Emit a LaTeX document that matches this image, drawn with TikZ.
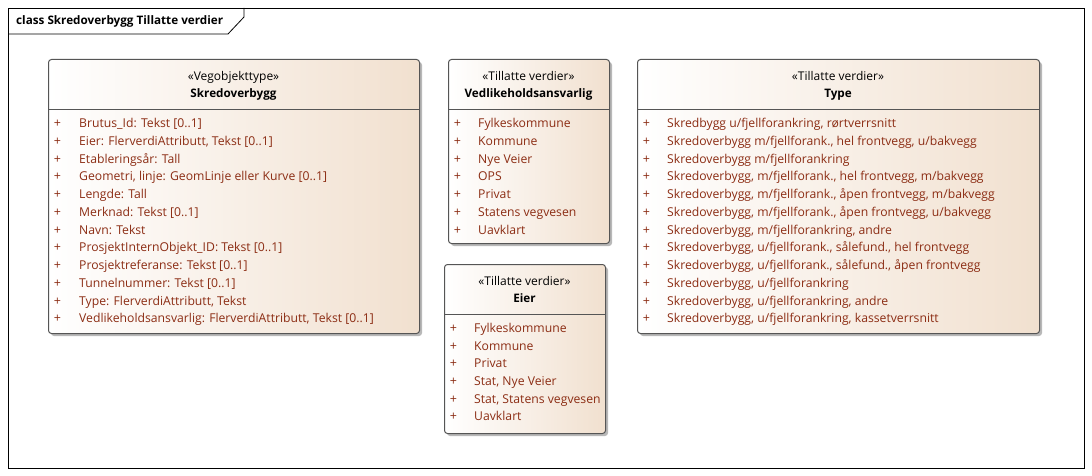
\documentclass[tikz,border=0pt]{standalone}
\usepackage{fontspec}
\setmainfont{Open Sans}
\usetikzlibrary{shadows}
\definecolor{attr}{RGB}{140,45,20}
\definecolor{peach}{RGB}{241,224,207}
\definecolor{edge}{RGB}{85,85,85}
\tikzset{
  classbox/.style={draw=edge, line width=1pt, rounded corners=3pt, left color=white, right color=peach,
    anchor=north west, inner sep=0pt,
    drop shadow={shadow xshift=2.5pt, shadow yshift=-2.5pt, fill=black!28, opacity=1}},
  stereo/.style={font=\fontsize{12}{14}\selectfont, anchor=mid, inner sep=0pt, text=black},
  cname/.style={font=\fontsize{11.7}{14}\selectfont\bfseries, anchor=mid, inner sep=0pt, text=black},
  attrtxt/.style={font=\fontsize{12.2}{14}\selectfont, text=attr, anchor=mid west, inner sep=0pt},
  plussign/.style={font=\fontsize{12.5}{14}\selectfont, text=attr, anchor=mid, inner sep=0pt},
  sepline/.style={draw=edge, line width=0.8pt},
}
\begin{document}
\begin{tikzpicture}[x=1pt,y=-1pt]
\useasboundingbox (0,0) rectangle (1092,476);
\fill[white] (0,0) rectangle (1092,476);
% frame
\node (frame) [draw=black, line width=1pt, minimum width=1076pt, minimum height=460pt, anchor=north west, inner sep=0pt] at (8,8) {};
\coordinate (tabA) at (244,8);
\coordinate (tabB) at (244,17);
\coordinate (tabC) at (228,34);
\coordinate (tabD) at (8,34);
\draw[line width=0.8pt] (tabA) -- (tabB) -- (tabC) -- (tabD);
\node (title) [font=\fontsize{11.7}{14}\selectfont\bfseries, anchor=mid west, inner sep=0pt] at (16,22) {class Skredoverbygg Tillatte verdier};

% Box 1
\node (b1) [classbox, minimum width=371pt, minimum height=274pt] at (48,59) {};
\node (b1s) [stereo] at (233.5,77.5) {«Vegobjekttype»};
\node (b1n) [cname] at (233.5,95) {Skredoverbygg};
\draw[sepline] (b1.west |- 0,109) -- (b1.east |- 0,109);
\foreach \t [count=\i] in {Brutus\_Id: Tekst [0..1], {Eier: FlerverdiAttributt, Tekst [0..1]}, Etableringsår: Tall,
  {Geometri, linje: GeomLinje eller Kurve [0..1]}, Lengde: Tall, Merknad: Tekst [0..1], Navn: Tekst,
  ProsjektInternObjekt\_ID: Tekst [0..1], Prosjektreferanse: Tekst [0..1], Tunnelnummer: Tekst [0..1],
  {Type: FlerverdiAttributt, Tekst}, {Vedlikeholdsansvarlig: FlerverdiAttributt, Tekst [0..1]}}{
  \node (b1p\i) [plussign] at (57.5,{125+(\i-1)*17.75}) {+};
  \node (b1a\i) [attrtxt] at (79,{125+(\i-1)*17.75}) {\t};
}

% Box 2
\node (b2) [classbox, minimum width=161pt, minimum height=184pt] at (448,59) {};
\node (b2s) [stereo] at (528.5,77.5) {«Tillatte verdier»};
\node (b2n) [cname] at (528.5,95) {Vedlikeholdsansvarlig};
\draw[sepline] (b2.west |- 0,109) -- (b2.east |- 0,109);
\foreach \t [count=\i] in {Fylkeskommune, Kommune, Nye Veier, OPS, Privat, Statens vegvesen, Uavklart}{
  \node (b2p\i) [plussign] at (457.5,{125+(\i-1)*17.75}) {+};
  \node (b2a\i) [attrtxt] at (478,{125+(\i-1)*17.75}) {\t};
}

% Box 3
\node (b3) [classbox, minimum width=161pt, minimum height=169pt] at (444,264) {};
\node (b3s) [stereo] at (524.5,282.5) {«Tillatte verdier»};
\node (b3n) [cname] at (524.5,300) {Eier};
\draw[sepline] (b3.west |- 0,314) -- (b3.east |- 0,314);
\foreach \t [count=\i] in {Fylkeskommune, Kommune, Privat, {Stat, Nye Veier}, {Stat, Statens vegvesen}, Uavklart}{
  \node (b3p\i) [plussign] at (453.5,{330+(\i-1)*17.6}) {+};
  \node (b3a\i) [attrtxt] at (474,{330+(\i-1)*17.6}) {\t};
}

% Box 4
\node (b4) [classbox, minimum width=402pt, minimum height=274pt] at (637,59) {};
\node (b4s) [stereo] at (838,77.5) {«Tillatte verdier»};
\node (b4n) [cname] at (838,95) {Type};
\draw[sepline] (b4.west |- 0,109) -- (b4.east |- 0,109);
\foreach \t [count=\i] in {{Skredbygg u/fjellforankring, rørtverrsnitt}, {Skredoverbygg m/fjellforank., hel frontvegg, u/bakvegg},
  Skredoverbygg m/fjellforankring, {Skredoverbygg, m/fjellforank., hel frontvegg, m/bakvegg},
  {Skredoverbygg, m/fjellforank., åpen frontvegg, m/bakvegg}, {Skredoverbygg, m/fjellforank., åpen frontvegg, u/bakvegg},
  {Skredoverbygg, m/fjellforankring, andre}, {Skredoverbygg, u/fjellforank., sålefund., hel frontvegg},
  {Skredoverbygg, u/fjellforank., sålefund., åpen frontvegg}, {Skredoverbygg, u/fjellforankring},
  {Skredoverbygg, u/fjellforankring, andre}, {Skredoverbygg, u/fjellforankring, kassetverrsnitt}}{
  \node (b4p\i) [plussign] at (646.5,{125+(\i-1)*17.75}) {+};
  \node (b4a\i) [attrtxt] at (667,{125+(\i-1)*17.75}) {\t};
}
\end{tikzpicture}
\end{document}
